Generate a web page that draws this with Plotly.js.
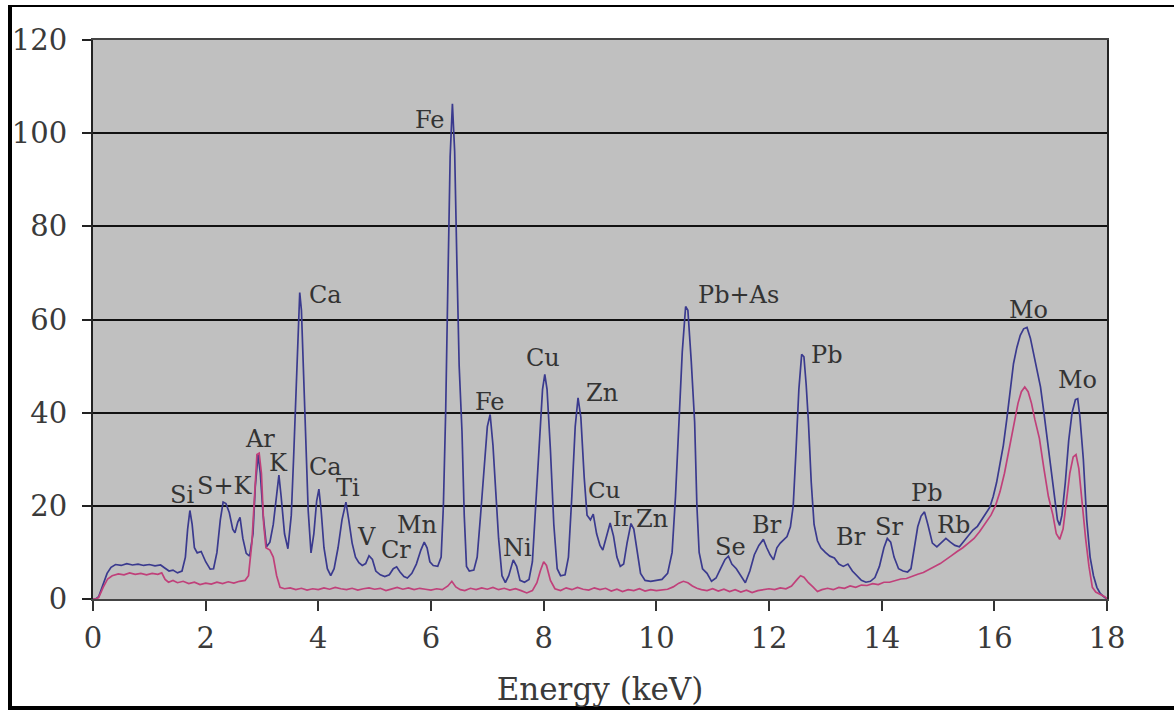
<!DOCTYPE html>
<html>
<head>
<meta charset="utf-8">
<script src="https://cdn.plot.ly/plotly-3.0.1.min.js"></script>
<style>
html,body{margin:0;padding:0;background:#fff;}
#chart{width:1174px;height:711px;}
</style>
</head>
<body>
<div id="chart"></div>
<script>
// Blue spectrum (sample)
const blueEnergy = [0.00,0.05,0.10,0.18,0.25,0.32,0.40,0.50,0.60,0.70,0.80,0.90,1.00,1.10,1.20,1.28,1.35,1.42,1.50,1.58,1.64,1.68,1.72,1.76,1.80,1.85,1.92,2.00,2.08,2.14,2.20,2.26,2.31,2.36,2.42,2.48,2.52,2.57,2.61,2.66,2.72,2.78,2.84,2.88,2.93,2.97,3.02,3.08,3.14,3.20,3.26,3.30,3.34,3.40,3.46,3.52,3.56,3.60,3.64,3.67,3.70,3.74,3.78,3.82,3.87,3.92,3.97,4.01,4.05,4.10,4.16,4.22,4.28,4.35,4.42,4.49,4.54,4.60,4.66,4.72,4.78,4.84,4.90,4.96,5.02,5.10,5.18,5.26,5.33,5.39,5.45,5.52,5.58,5.66,5.74,5.82,5.88,5.93,5.98,6.04,6.12,6.18,6.22,6.26,6.30,6.34,6.38,6.42,6.46,6.50,6.55,6.59,6.63,6.68,6.76,6.82,6.88,6.94,7.00,7.05,7.10,7.15,7.20,7.26,7.32,7.38,7.46,7.52,7.58,7.66,7.74,7.80,7.86,7.92,7.98,8.02,8.06,8.12,8.18,8.24,8.30,8.38,8.44,8.50,8.56,8.61,8.66,8.72,8.77,8.83,8.88,8.94,9.00,9.05,9.11,9.18,9.24,9.30,9.36,9.42,9.48,9.55,9.60,9.66,9.72,9.80,9.90,10.00,10.10,10.20,10.28,10.34,10.40,10.46,10.52,10.56,10.62,10.68,10.72,10.76,10.82,10.90,10.98,11.06,11.14,11.22,11.28,11.34,11.42,11.50,11.58,11.66,11.74,11.82,11.90,11.96,12.02,12.08,12.14,12.20,12.26,12.32,12.38,12.43,12.48,12.53,12.58,12.62,12.66,12.70,12.75,12.80,12.86,12.92,13.00,13.08,13.16,13.24,13.32,13.40,13.48,13.56,13.64,13.72,13.80,13.88,13.96,14.04,14.10,14.16,14.22,14.30,14.38,14.46,14.52,14.58,14.64,14.70,14.76,14.82,14.90,14.98,15.06,15.14,15.22,15.30,15.38,15.46,15.54,15.62,15.70,15.78,15.86,15.92,15.98,16.04,16.10,16.16,16.22,16.28,16.34,16.40,16.46,16.52,16.58,16.64,16.70,16.76,16.82,16.88,16.94,17.00,17.06,17.12,17.16,17.20,17.26,17.32,17.38,17.44,17.48,17.52,17.58,17.64,17.70,17.76,17.82,17.88,17.94,18.00];
const blueCounts = [0,0,0.5,3,5.5,6.8,7.4,7.2,7.6,7.3,7.5,7.2,7.4,7.1,7.3,6.6,6.0,6.2,5.6,6.0,9,15,19,16,11,9.9,10.2,8,6.4,6.5,10,17,20.8,20.5,18.5,15,14.2,16.5,17.5,13,9.8,9.2,14,24,31,27,18,11.2,12.2,16,23,26.6,22,14,10.8,18,30,44,58,65.8,62,48,32,19,9.9,14,21,23.6,19,11,6.5,5.0,6.5,11,17,20.8,17,12,9,7.8,7.2,7.6,9.3,8.5,6,5.2,4.8,5.2,6.5,6.9,5.8,4.8,4.5,5.5,7.5,10.5,12.2,11,8,7.2,7.0,9,20,40,68,95,106.3,96,72,50,36,18,7,6,6.2,9,18,28,37,39.6,33,23,13,5,3.5,5,8.4,7,4,3.6,4.2,8,20,34,45,48.2,45,32,16,6.5,5,5.2,9,22,37,43.2,39,26,18,17,18.2,14,11.5,10.5,13,16.3,13.5,9,7,7.5,12,16.2,15,10,5.5,4.0,3.8,4.0,4.2,5.5,10,22,37,53,62.8,62,51,38,20,10,6.5,5.5,3.8,4.5,6.5,8.5,9.2,7.5,6.5,5,3.5,6,9.5,11.5,12.8,11,9.5,8.4,11,12,12.6,13.4,15.5,20,32,45,52.5,52,46,38,25,16,12.5,11,10,9.2,8.8,7.5,7.0,7.5,6,5,4,3.6,3.8,4.6,7,11,13,12.2,9,6.5,6,5.8,6.5,11,15.5,17.8,18.7,16,12,11.2,12,13,12.2,11.5,11.2,12.4,13.5,14.8,15.6,17,18.5,19.7,22,25,29,33,38.5,45,50.5,54,56.6,58,58.3,56,52.5,49,45.5,40,34,28,22,17,15.8,18,25,34,40,42.8,43,39,30,17,9,5,2.5,1.2,0.5,0];

// Pink spectrum (blank / background)
const pinkEnergy = [0.00,0.05,0.10,0.18,0.26,0.34,0.45,0.55,0.65,0.75,0.85,0.95,1.05,1.15,1.22,1.28,1.34,1.42,1.50,1.60,1.70,1.80,1.90,2.00,2.10,2.20,2.30,2.40,2.50,2.60,2.70,2.76,2.82,2.87,2.91,2.95,2.99,3.03,3.07,3.14,3.20,3.26,3.32,3.40,3.50,3.60,3.70,3.80,3.90,4.00,4.10,4.20,4.30,4.40,4.50,4.60,4.70,4.80,4.90,5.00,5.10,5.20,5.30,5.40,5.50,5.60,5.70,5.80,5.90,6.00,6.10,6.20,6.30,6.37,6.44,6.52,6.60,6.70,6.80,6.90,7.00,7.10,7.20,7.30,7.40,7.50,7.60,7.70,7.80,7.88,7.94,8.00,8.05,8.12,8.20,8.30,8.40,8.50,8.60,8.70,8.80,8.90,9.00,9.10,9.20,9.30,9.40,9.50,9.60,9.70,9.80,9.90,10.00,10.10,10.20,10.30,10.40,10.48,10.56,10.64,10.72,10.80,10.90,11.00,11.10,11.20,11.30,11.40,11.50,11.60,11.70,11.80,11.90,12.00,12.10,12.20,12.30,12.40,12.50,12.56,12.62,12.70,12.78,12.86,12.94,13.04,13.14,13.24,13.34,13.44,13.54,13.64,13.74,13.84,13.94,14.04,14.14,14.24,14.34,14.44,14.54,14.64,14.74,14.84,14.94,15.04,15.14,15.24,15.34,15.44,15.54,15.64,15.74,15.84,15.94,16.02,16.10,16.18,16.26,16.34,16.42,16.48,16.54,16.60,16.66,16.72,16.80,16.88,16.96,17.04,17.10,17.16,17.22,17.28,17.34,17.40,17.45,17.50,17.56,17.62,17.68,17.74,17.80,17.88,17.96,18.00];
const pinkCounts = [0,0,0.3,2.5,4.3,5.0,5.4,5.2,5.6,5.3,5.5,5.2,5.5,5.3,5.6,4.2,3.6,4.0,3.5,3.8,3.3,3.6,3.1,3.4,3.2,3.6,3.3,3.7,3.4,3.8,4.0,5,12,24,31,31.3,27,16,11,10.5,9,5,2.5,2.2,2.4,2.0,2.3,1.9,2.2,2.0,2.4,2.1,2.5,2.2,2.0,2.3,1.9,2.2,2.4,2.1,2.3,1.8,2.2,2.5,2.1,2.4,2.0,2.3,2.1,1.9,2.2,2.0,2.8,3.8,2.6,2.0,1.8,2.3,2.0,2.4,2.1,2.5,2.0,2.3,1.9,2.2,1.8,1.3,1.8,3.5,6,8,7.2,4,2.2,1.8,2.4,2.0,2.5,2.1,1.9,2.4,2.0,2.3,1.7,2.1,1.6,2.0,1.8,2.2,1.7,2.0,1.8,2.0,2.1,2.6,3.4,3.8,3.5,2.8,2.3,2.0,1.8,2.2,1.7,2.1,1.6,2.0,1.5,1.9,1.4,1.8,2.0,2.2,2.0,2.4,2.2,2.8,4.2,5.0,4.7,3.5,2.6,1.6,2.0,2.3,2.0,2.5,2.3,2.8,2.5,3.0,2.9,3.3,3.1,3.6,3.6,4.0,4.3,4.4,4.9,5.3,5.7,6.4,7.0,7.6,8.4,9.3,10.2,11.0,12.0,13.0,14.5,16.2,18,20,23,27,32,37,42,44.5,45.5,44.5,42,38.5,34.5,28,22,18,14,12.8,15,21,27,30.5,31,28,20,13,7,2.5,1.5,1.0,0.5,0];

// Peak labels
const labelText   = ["Fe","Ca","Pb+As","Mo","Mo","Pb","Cu","Zn","Fe","Ar","K","S+K","Ca","Ti","Si","Cu","Ir","Zn","Pb","V","Cr","Mn","Br","Br","Sr","Rb","Se","Ni"];
const labelEnergy = [5.98,4.12,11.45,16.60,17.47,13.03,7.99,9.04,7.05,2.96,3.30,2.34,4.12,4.53,1.58,9.07,9.40,9.92,14.81,4.86,5.38,5.75,11.97,13.46,14.13,15.27,11.31,7.53];
const labelCounts = [102.8,65.3,65.3,62.0,47.0,52.4,51.7,44.2,42.3,34.3,29.2,24.3,28.3,23.8,22.3,23.4,17.2,17.2,22.8,13.3,10.5,15.9,15.9,13.3,15.5,15.9,11.2,10.9];
const labelSize   = [24,24,24,24,24,24,24,24,24,24,24,24,24,24,24,23,21,24,24,24,24,24,24,24,24,24,24,24];

const xTicks = [0,2,4,6,8,10,12,14,16,18];
const yTicks = [0,20,40,60,80,100,120];
const xTitle = "Energy (keV)";

const serif = "DejaVu Serif, Liberation Serif, serif";

const traces = [
  {x: blueEnergy, y: blueCounts, type: "scatter", mode: "lines",
   line: {color: "#3a3a8e", width: 1.7}, hoverinfo: "skip", showlegend: false},
  {x: pinkEnergy, y: pinkCounts, type: "scatter", mode: "lines",
   line: {color: "#c0407a", width: 1.7}, hoverinfo: "skip", showlegend: false}
];

const annotations = labelText.map((t, i) => ({
  x: labelEnergy[i], y: labelCounts[i], xref: "x", yref: "y",
  text: t, showarrow: false, xanchor: "center", yanchor: "middle",
  font: {family: serif, size: labelSize[i], color: "#333333"}
}));

// outer frame (paper coords relative to plot area 93..1107 x 40..599)
const px = v => (v - 93) / 1014;
const py = v => (599 - v) / 559;
const shapes = [
  {type: "line", xref: "paper", yref: "paper", x0: px(10), x1: px(1200), y0: py(6), y1: py(6), line: {color: "#000", width: 2}},
  {type: "line", xref: "paper", yref: "paper", x0: px(10), x1: px(10), y0: py(5), y1: py(709), line: {color: "#000", width: 4}},
  {type: "line", xref: "paper", yref: "paper", x0: px(8), x1: px(1200), y0: py(708), y1: py(708), line: {color: "#000", width: 4}}
];

const layout = {
  width: 1174, height: 711,
  margin: {l: 93, r: 67, t: 40, b: 112, pad: 0},
  paper_bgcolor: "#ffffff",
  plot_bgcolor: "#c0c0c0",
  showlegend: false,
  xaxis: {
    range: [0, 18], tickvals: xTicks, ticktext: xTicks.map(String),
    ticks: "outside", ticklen: 10, tickwidth: 2, tickcolor: "#333",
    ticklabelstandoff: 2,
    showgrid: false, zeroline: false,
    showline: true, linecolor: "#444", linewidth: 2, mirror: true,
    tickfont: {family: serif, size: 29, color: "#3a3a3a"},
    title: {text: xTitle, standoff: 25, font: {family: serif, size: 31, color: "#3a3a3a"}},
    automargin: false,
    fixedrange: true
  },
  yaxis: {
    range: [0, 120], tickvals: yTicks, ticktext: yTicks.map(String),
    ticks: "outside", ticklen: 9, tickwidth: 2, tickcolor: "#222",
    ticklabelstandoff: 9,
    showgrid: true, gridcolor: "#111111", gridwidth: 2,
    zeroline: false,
    showline: true, linecolor: "#222", linewidth: 2, mirror: true,
    tickfont: {family: serif, size: 29, color: "#3a3a3a"},
    automargin: false,
    fixedrange: true
  },
  annotations: annotations,
  shapes: shapes
};

Plotly.newPlot("chart", traces, layout, {displayModeBar: false, staticPlot: true});
</script>
</body>
</html>
